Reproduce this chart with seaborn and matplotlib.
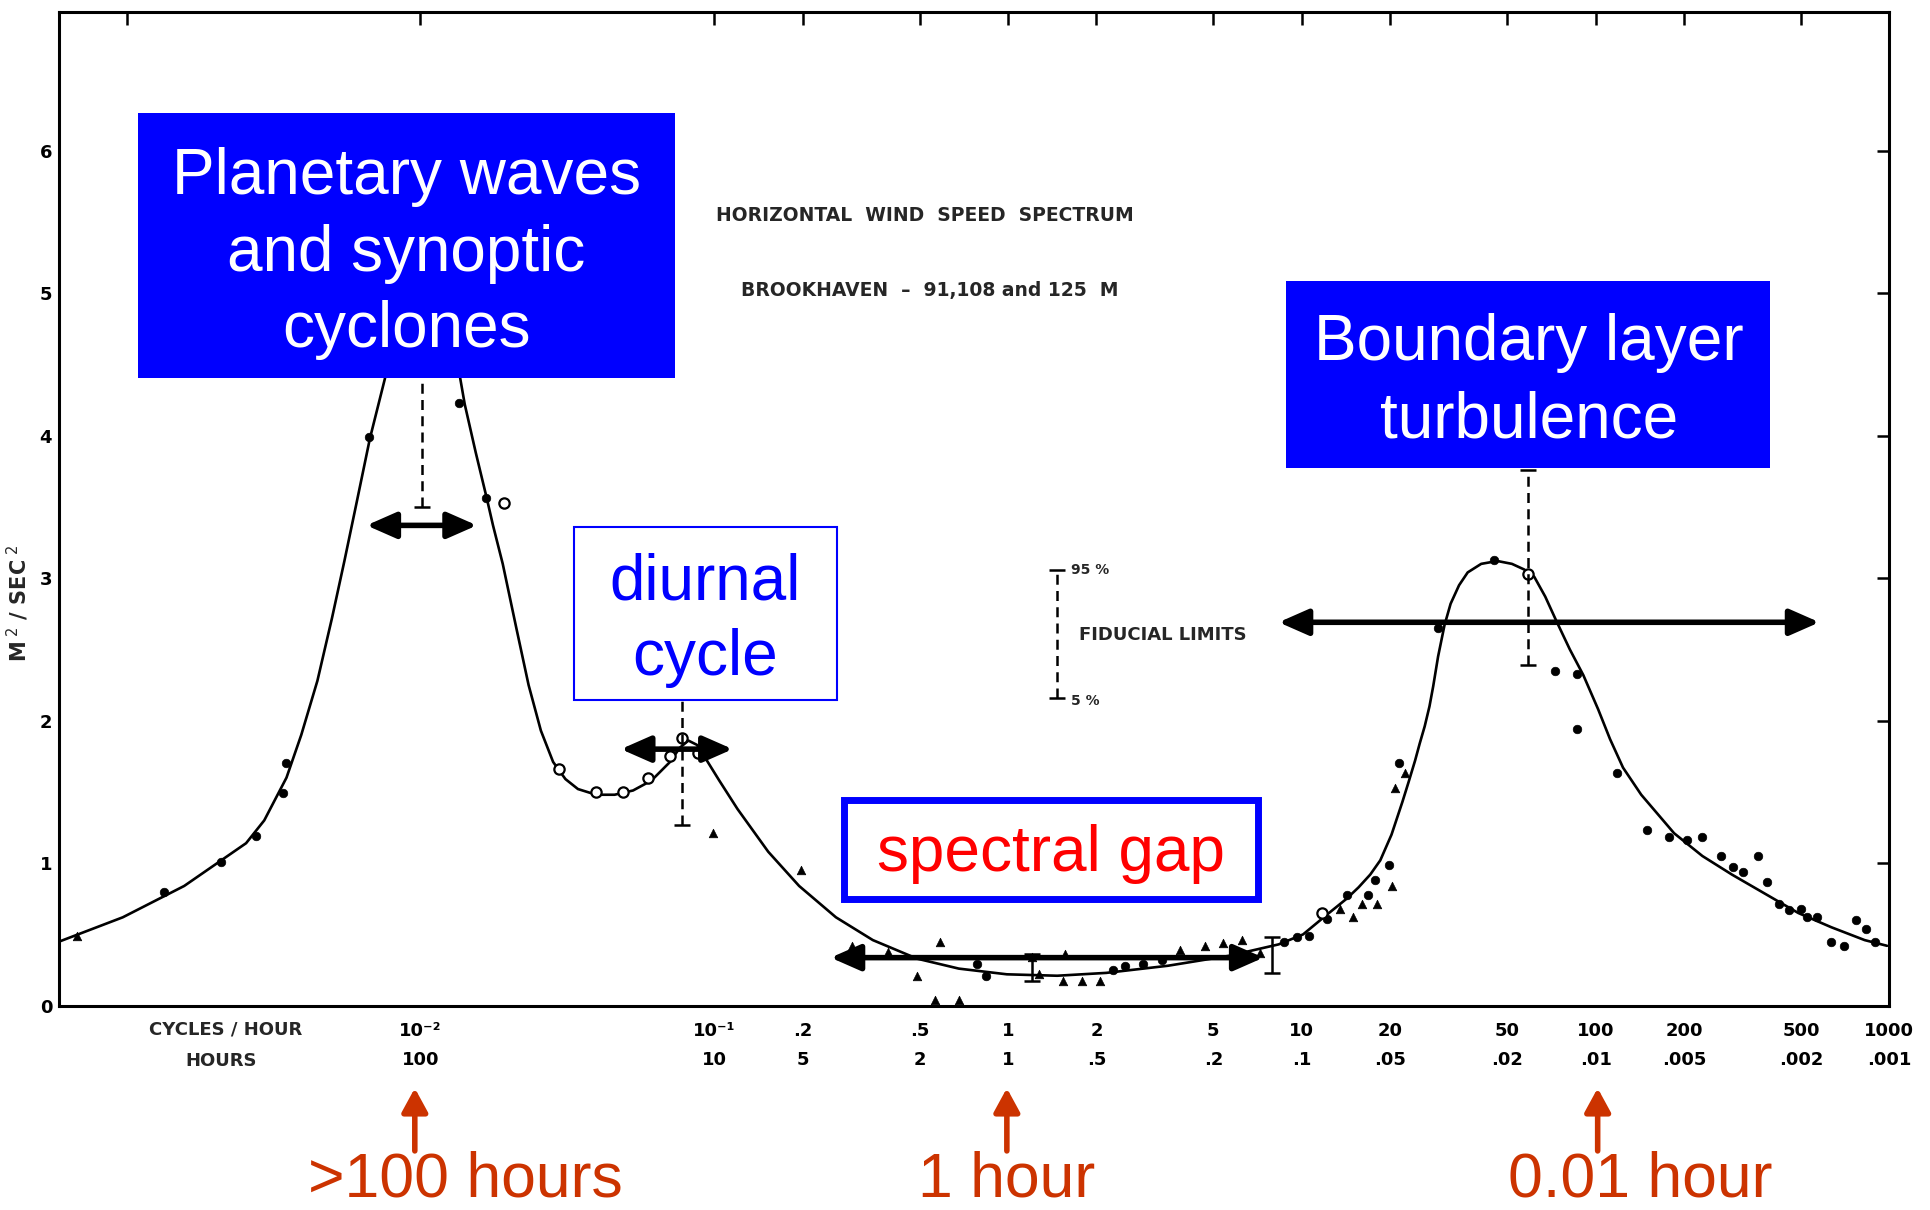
import numpy as np
import pandas as pd
import matplotlib
matplotlib.use("Agg")
import matplotlib.pyplot as plt
import seaborn as sns
from matplotlib.patches import Rectangle, FancyArrowPatch
from matplotlib.ticker import NullLocator, FixedLocator, FixedFormatter

# ---------------- data ----------------
curve_freq = [0.00059, 0.00097, 0.00157, 0.00255, 0.00294, 0.00350, 0.00393, 0.00446,
              0.00500, 0.00551, 0.00605, 0.00673, 0.00757, 0.00824, 0.00908, 0.0101,
              0.01133, 0.01248, 0.01361, 0.01415, 0.01543, 0.01682, 0.01766, 0.01906,
              0.0212, 0.02334, 0.0257, 0.02829, 0.03115, 0.03436, 0.03963, 0.04581,
              0.05294, 0.06117, 0.0707, 0.07638, 0.08166, 0.0873, 0.0944, 0.104, 0.120,
              0.1527, 0.1945, 0.2596, 0.3467, 0.490, 0.680, 0.991, 1.47, 2.16, 3.50,
              5.66, 8.34, 10.1, 12.2, 14.2, 15.6, 17.1, 18.5, 20.2, 22.0, 23.1, 24.3,
              25.2, 26.2, 27.2, 28.0, 29.1, 30.6, 32.1, 34.3, 36.7, 40.8, 46.3, 51.9,
              57.2, 61.8, 67.4, 73.5, 81.7, 90.8, 102, 112, 124, 143, 165, 185, 231,
              291, 374, 490, 635, 824, 982]
curve_val = [0.45, 0.62, 0.84, 1.14, 1.30, 1.60, 1.90, 2.28,
             2.72, 3.12, 3.52, 3.98, 4.40, 4.90, 5.35, 5.55,
             5.35, 4.95, 4.42, 4.22, 3.88, 3.56, 3.37, 3.10,
             2.65, 2.25, 1.93, 1.71, 1.59, 1.52, 1.48, 1.48,
             1.51, 1.58, 1.71, 1.81, 1.86, 1.83, 1.72, 1.58, 1.38,
             1.08, 0.84, 0.62, 0.46, 0.33, 0.26, 0.22, 0.21, 0.23, 0.28,
             0.35, 0.43, 0.50, 0.64, 0.75, 0.83, 0.92, 1.02, 1.20, 1.43, 1.57, 1.72,
             1.84, 1.96, 2.10, 2.24, 2.45, 2.67, 2.82, 2.95, 3.04, 3.10, 3.12, 3.10,
             3.06, 3.01, 2.87, 2.70, 2.50, 2.32, 2.08, 1.87, 1.67, 1.48, 1.33, 1.21, 1.05,
             0.92, 0.79, 0.65, 0.55, 0.46, 0.42]

pt_freq = [0.00068, 0.00134, 0.00210, 0.00275, 0.00340, 0.00350, 0.00667, 0.01349,
           0.01667, 0.01927, 0.0297, 0.0396, 0.0490, 0.0594, 0.0707, 0.0778, 0.0883,
           0.0991, 0.198, 0.294, 0.389, 0.490, 0.566, 0.589, 0.680, 0.785, 0.841,
           1.21, 1.27, 1.56, 1.54, 1.78, 2.06, 2.27, 2.50, 2.88, 3.33, 3.85, 4.67,
           5.39, 6.24, 7.21, 8.73, 9.62, 10.6, 11.7, 12.2, 13.5, 14.2, 14.9, 16.0,
           16.8, 17.7, 18.0, 19.8, 20.2, 20.8, 21.4, 22.5, 29.1, 45.0, 58.9, 72.8,
           86.5, 86.5, 118, 150, 178, 204, 231, 267, 294, 318, 357, 382, 420, 454,
           500, 525, 567, 635, 700, 771, 834, 891]
pt_val = [0.49, 0.80, 1.01, 1.19, 1.49, 1.70, 3.99, 4.23,
          3.56, 3.53, 1.66, 1.50, 1.50, 1.60, 1.75, 1.88, 1.77,
          1.21, 0.95, 0.42, 0.38, 0.21, 0.04, 0.45, 0.04, 0.29, 0.21,
          0.34, 0.22, 0.36, 0.17, 0.17, 0.17, 0.25, 0.28, 0.29, 0.32, 0.39, 0.42,
          0.44, 0.46, 0.37, 0.45, 0.48, 0.49, 0.65, 0.61, 0.68, 0.78, 0.62, 0.71,
          0.78, 0.88, 0.71, 0.99, 0.84, 1.53, 1.70, 1.63, 2.65, 3.13, 3.03, 2.35,
          2.33, 1.94, 1.63, 1.23, 1.18, 1.16, 1.18, 1.05, 0.97, 0.94, 1.05, 0.87, 0.71, 0.67,
          0.68, 0.62, 0.62, 0.45, 0.42, 0.60, 0.54, 0.45]
pt_kind = ["tri", "dot", "dot", "dot", "dot", "dot", "dot", "dot",
           "dot", "circle", "circle", "circle", "circle", "circle", "circle", "circle", "circle",
           "tri", "tri", "tri", "tri", "tri", "tri", "tri", "tri", "dot", "dot",
           "tri", "tri", "tri", "tri", "tri", "tri", "dot", "dot", "dot", "dot", "tri", "tri",
           "tri", "tri", "tri", "dot", "dot", "dot", "circle", "dot", "tri", "dot", "tri", "tri",
           "dot", "dot", "tri", "dot", "tri", "tri", "dot", "tri", "dot", "dot", "circle", "dot",
           "dot", "dot", "dot", "dot", "dot", "dot", "dot", "dot", "dot", "dot", "dot", "dot", "dot", "dot",
           "dot", "dot", "dot", "dot", "dot", "dot", "dot", "dot"]

# fiducial limits (confidence bars); the last one is the key bar
fid_freq = [0.0101, 0.0778, 1.21, 7.94, 58.9, 1.47]
fid_low = [3.50, 1.27, 0.17, 0.23, 2.39, 2.16]
fid_high = [6.20, 2.67, 0.36, 0.48, 3.76, 3.06]
fid_dashed = [True, True, False, False, True, True]

freq_ticks = [1e-3, 1e-2, 1e-1, 0.2, 0.5, 1, 2, 5, 10, 20, 50, 100, 200, 500, 1000]
freq_labels = ["", "10⁻²", "10⁻¹", ".2", ".5", "1", "2", "5", "10", "20", "50",
               "100", "200", "500", "1000"]
hour_labels = ["", "100", "10", "5", "2", "1", ".5", ".2", ".1", ".05", ".02", ".01",
               ".005", ".002", ".001"]
y_ticks = [0, 1, 2, 3, 4, 5, 6]

# double-arrow ranges (freq start, freq end, level)
span_start = [0.00655, 0.0481, 0.249, 8.34]
span_end = [0.01557, 0.1156, 7.41, 578]
span_level = [3.37, 1.80, 0.337, 2.69]

# ---------------- figure ----------------
sns.set_style("white")
plt.rcParams["font.family"] = ["DejaVu Sans"]

W, H = 1568.0, 983.0   # layout reference units


def fx(x):
    return x / W


def fy(y):
    return 1 - y / H


fig = plt.figure(figsize=(19.3, 12.1), dpi=100)
ax = fig.add_axes([fx(48), fy(817), fx(1535) - fx(48), fy(10) - fy(817)])

df_curve = pd.DataFrame({"freq": curve_freq, "val": curve_val})
sns.lineplot(data=df_curve, x="freq", y="val", ax=ax, color="black", lw=1.9, zorder=3)

df_pts = pd.DataFrame({"freq": pt_freq, "val": pt_val, "kind": pt_kind})
sns.scatterplot(data=df_pts[df_pts.kind == "dot"], x="freq", y="val", ax=ax,
                marker="o", s=38, color="black", edgecolor="black", zorder=4)
sns.scatterplot(data=df_pts[df_pts.kind == "tri"], x="freq", y="val", ax=ax,
                marker="^", s=38, color="black", edgecolor="black", zorder=4)
sns.scatterplot(data=df_pts[df_pts.kind == "circle"], x="freq", y="val", ax=ax,
                marker="o", s=55, facecolor="white", edgecolor="black", linewidth=1.6, zorder=4)

for f, lo, hi, dsh in zip(fid_freq, fid_low, fid_high, fid_dashed):
    mid = (lo + hi) / 2
    eb = ax.errorbar([f], [mid], yerr=[[mid - lo], [hi - mid]], fmt="none",
                     ecolor="black", elinewidth=1.8, capsize=6, capthick=1.8, zorder=4)
    if dsh:
        eb[2][0].set_linestyle((0, (4, 2.5)))

ax.set_xscale("log")
ax.set_xlim(10 ** -3.23, 1000)
ax.set_ylim(0, 6.97)
ax.xaxis.set_major_locator(FixedLocator(freq_ticks))
ax.xaxis.set_minor_locator(NullLocator())
ax.xaxis.set_major_formatter(FixedFormatter([f"{a}\n{b}" for a, b in zip(freq_labels, hour_labels)]))
ax.set_yticks(y_ticks)
ax.set_yticklabels([str(v) for v in y_ticks])
ax.set_xlabel("")
ax.set_ylabel(r"M$^{\ 2}$ / SEC$^{\ 2}$", fontsize=15, fontweight="bold")
ax.yaxis.set_label_coords((25 - 48) / (1535 - 48), (817 - 490) / (817 - 10))
ax.tick_params(direction="in", top=True, right=True, length=9, width=1.8,
               labelsize=13, colors="black")
ax.tick_params(axis="x", pad=12)
ax.tick_params(axis="y", pad=5)
for lbl in ax.get_xticklabels():
    lbl.set_linespacing(1.75)
    lbl.set_fontweight("bold")
for lbl in ax.get_yticklabels():
    lbl.set_fontweight("bold")
for sp in ax.spines.values():
    sp.set_visible(True)
    sp.set_color("black")
    sp.set_linewidth(2.2)

# original chart annotations
ax.text(1.64, 3.06, "95 %", fontsize=10, fontweight="bold", va="center", ha="left")
ax.text(1.64, 2.14, "5 %", fontsize=10, fontweight="bold", va="center", ha="left")
fig.text(fx(877), fy(516), "FIDUCIAL LIMITS", fontsize=13, fontweight="bold",
         ha="left", va="center")
fig.text(fx(751), fy(175), "HORIZONTAL  WIND  SPEED  SPECTRUM", fontsize=13.5,
         fontweight="bold", ha="center", va="center")
fig.text(fx(755), fy(236), "BROOKHAVEN  –  91,108 and 125  M", fontsize=13.5,
         fontweight="bold", ha="center", va="center")
fig.text(fx(183), fy(836), "CYCLES / HOUR", fontsize=13, fontweight="bold",
         ha="center", va="center")
fig.text(fx(180), fy(862), "HOURS", fontsize=13, fontweight="bold",
         ha="center", va="center")

# black double arrows
for f0, f1, lv in zip(span_start, span_end, span_level):
    ax.annotate("", xy=(f1, lv), xytext=(f0, lv),
                arrowprops=dict(arrowstyle="<|-|>,head_length=0.5,head_width=0.22",
                                color="black", lw=4, mutation_scale=36,
                                shrinkA=0, shrinkB=0),
                zorder=8)

# boxes
SANS = "Liberation Sans"


def box(x0, y0, x1, y1, face, edge, lw):
    r = Rectangle((fx(x0), fy(y1)), fx(x1) - fx(x0), fy(y0) - fy(y1),
                  transform=fig.transFigure, facecolor=face, edgecolor=edge,
                  linewidth=lw, zorder=5)
    fig.add_artist(r)


box(112, 92, 548, 307, "#0000FF", "#0000FF", 0)
fig.text(fx(330), fy(206), "Planetary waves\nand synoptic\ncyclones", color="white",
         fontsize=46, family=SANS, ha="center", va="center", linespacing=1.36, zorder=6)

box(1045, 228, 1438, 380, "#0000FF", "#0000FF", 0)
fig.text(fx(1242), fy(310), "Boundary layer\nturbulence", color="white",
         fontsize=46, family=SANS, ha="center", va="center", linespacing=1.36, zorder=6)

box(466, 428, 680, 569, "white", "#0000FF", 1.5)
fig.text(fx(573), fy(504), "diurnal\ncycle", color="#0000FF",
         fontsize=46, family=SANS, ha="center", va="center", linespacing=1.32, zorder=6)

box(686, 650, 1022, 730, "white", "#0000FF", 5)
fig.text(fx(854), fy(694), "spectral gap", color="#FF0000",
         fontsize=46, family=SANS, ha="center", va="center", zorder=6)

# red bottom annotations
RED = "#CC3300"
for xa, label, xt in [(337, ">100 hours", 378), (818, "1 hour", 818), (1298, "0.01 hour", 1333)]:
    arr = FancyArrowPatch((fx(xa), fy(935)), (fx(xa), fy(884)), transform=fig.transFigure,
                          arrowstyle="-|>,head_length=0.55,head_width=0.3",
                          mutation_scale=26, color=RED, lw=4, shrinkA=0, shrinkB=0)
    fig.add_artist(arr)
    fig.text(fx(xt), fy(959), label, color=RED, fontsize=45, family=SANS,
             ha="center", va="center")

fig.savefig("out.png", dpi=100, facecolor="white")
